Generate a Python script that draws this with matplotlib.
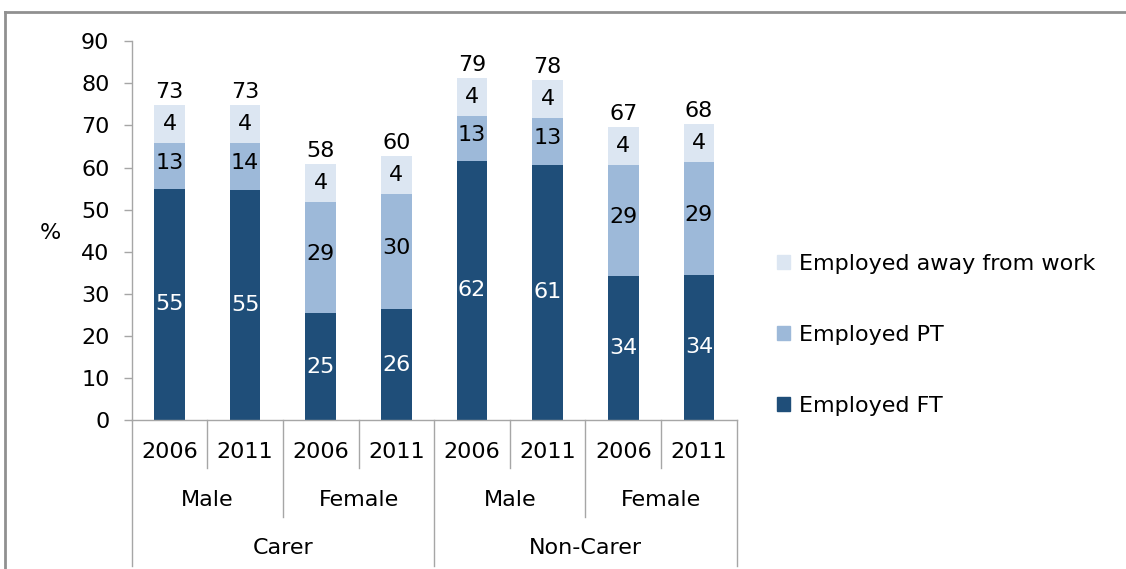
import matplotlib.pyplot as plt
from matplotlib.patches import Patch
from matplotlib.lines import Line2D

# drawn segment heights
ft_height = [54.9, 54.6, 25.4, 26.3, 61.6, 60.7, 34.2, 34.5]
pt_height = [10.9, 11.2, 26.5, 27.4, 10.6, 11.0, 26.5, 26.7]
away_height = [9.1, 9.1, 9.0, 9.1, 9.1, 9.1, 8.9, 9.2]

# printed labels
ft_labels = [55, 55, 25, 26, 62, 61, 34, 34]
pt_labels = [13, 14, 29, 30, 13, 13, 29, 29]
away_labels = [4, 4, 4, 4, 4, 4, 4, 4]
total_labels = [73, 73, 58, 60, 79, 78, 67, 68]

years = ["2006", "2011"] * 4
genders = ["Male", "Female", "Male", "Female"]
groups = ["Carer", "Non-Carer"]

c_ft = "#1F4E79"
c_pt = "#9DB9D9"
c_away = "#DCE6F2"
grey = "#A6A6A6"

FS = 16
plt.rcParams["font.family"] = ["DejaVu Sans"]
plt.rcParams["font.size"] = FS

W, H = 1126, 569
fig = plt.figure(figsize=(W / 100, H / 100), dpi=100)
ax_l, ax_r, ax_t, ax_b = 131.7, 736.7, 41.3, 420.0
ax = fig.add_axes([ax_l / W, 1 - ax_b / H, (ax_r - ax_l) / W, (ax_b - ax_t) / H])

n = len(ft_height)
x = [i + 0.5 for i in range(n)]
bw = 0.406
bottom2 = [a + b for a, b in zip(ft_height, pt_height)]
tops = [a + b for a, b in zip(bottom2, away_height)]

ax.bar(x, ft_height, bw, color=c_ft, linewidth=0)
ax.bar(x, pt_height, bw, bottom=ft_height, color=c_pt, linewidth=0)
ax.bar(x, away_height, bw, bottom=bottom2, color=c_away, linewidth=0)

for i in range(n):
    ax.text(x[i], ft_height[i] / 2, str(ft_labels[i]), ha="center", va="center",
            color="white")
    ax.text(x[i], ft_height[i] + pt_height[i] / 2 + 0.8, str(pt_labels[i]),
            ha="center", va="center", color="black")
    ax.text(x[i], bottom2[i] + away_height[i] / 2, str(away_labels[i]),
            ha="center", va="center", color="black")
    ax.annotate(str(total_labels[i]), (x[i], tops[i]), xytext=(0, 2),
                textcoords="offset points", ha="center", va="bottom")

ax.set_xlim(0, n)
ax.set_ylim(0, 90)
ax.set_yticks(range(0, 91, 10))
ax.set_xticks([])
for s in ["top", "right"]:
    ax.spines[s].set_visible(False)
for s in ["left", "bottom"]:
    ax.spines[s].set_color(grey)
    ax.spines[s].set_linewidth(1.0)
ax.tick_params(axis="y", length=6, width=1, color=grey, pad=10, labelsize=FS)

# multi-level category axis
ah = ax_b - ax_t
def ay(py):
    return (ax_b - py) / ah

tr = ax.get_xaxis_transform()
for i in range(n + 1):
    if i % 4 == 0:
        y_end = ay(566)
    elif i % 2 == 0:
        y_end = ay(517)
    else:
        y_end = ay(468)
    ax.add_line(Line2D([i, i], [0, y_end], transform=tr, color=grey, lw=1.0,
                       clip_on=False))

for i, yr in enumerate(years):
    ax.text(i + 0.5, ay(451.7), yr, transform=tr, ha="center", va="center")
for j, g in enumerate(genders):
    ax.text(2 * j + 1, ay(500), g, transform=tr, ha="center", va="center")
for k, g in enumerate(groups):
    ax.text(4 * k + 2, ay(548), g, transform=tr, ha="center", va="center")

fig.text(50 / W, 1 - 233 / H, "%", ha="center", va="center", fontsize=FS)

handles = [Patch(color=c_away, label="Employed away from work"),
           Patch(color=c_pt, label="Employed PT"),
           Patch(color=c_ft, label="Employed FT")]
fig.legend(handles=handles, loc="center left", bbox_to_anchor=(777 / W, 1 - 335 / H),
           frameon=False, borderpad=0, borderaxespad=0, handlelength=0.6,
           handleheight=0.6, handletextpad=0.4, labelspacing=2.3, fontsize=FS)

# outer frame (top and left)
fig.add_artist(Line2D([5 / W, 1], [1 - 12 / H, 1 - 12 / H], transform=fig.transFigure,
                      color="#909090", lw=2))
fig.add_artist(Line2D([5 / W, 5 / W], [0, 1 - 12 / H], transform=fig.transFigure,
                      color="#909090", lw=2))

fig.savefig("out.png", dpi=100)
